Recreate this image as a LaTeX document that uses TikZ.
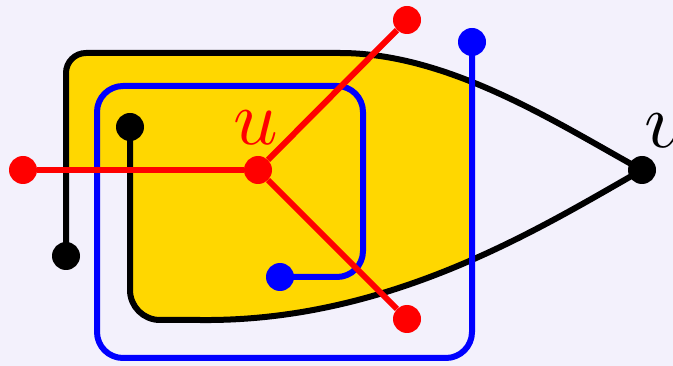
\documentclass[tikz,border=0pt]{standalone}
\usetikzlibrary{backgrounds}
\definecolor{bgpaper}{HTML}{F3F1FC}
\definecolor{facegold}{HTML}{FFD700}
\tikzset{
  vtx/.style={circle, inner sep=0pt, minimum size=28pt, fill=#1},
  strand/.style={line width=6pt, #1},
  biglabel/.style={inner sep=0pt},
}
\newcommand{\biglab}[1]{\scalebox{7.8}{$#1$}}

\begin{document}
\begin{tikzpicture}[x=1pt, y=-1pt]
  \useasboundingbox (0,0) rectangle (673,366);

  % vertices
  \node[vtx=red] (u) at (258,170) {};
  \node[vtx=red] (r1) at (23,170) {};
  \node[vtx=red] (r2) at (407,20) {};
  \node[vtx=red] (r3) at (407,319) {};
  \node[vtx=black] (v) at (642,170) {};
  \node[vtx=black] (b1) at (66,256) {};
  \node[vtx=black] (b2) at (130,127) {};
  \node[vtx=blue] (c1) at (280,277) {};
  \node[vtx=blue] (c2) at (472,42) {};
  \node[biglabel, red] (ulab) at (256,128) {\biglab{u}};
  \node[biglabel, anchor=west] (vlab) at (644,131) {\biglab{v}};

  % face
  \begin{scope}[on background layer]
    \fill[bgpaper] (0,0) rectangle (673,366);
    \clip (0,0) rectangle (472,366);
    \fill[facegold] (66,170) [rounded corners=20pt] |- (320,53) [sharp corners]
      .. controls (450,53) and (560,125) .. (v.center)
      .. controls (540,228) and (390,322) .. (200,320)
      [rounded corners=30pt] -| (130,250) [sharp corners] -- (130,170) -- cycle;
  \end{scope}

  % black strand through v
  \draw[strand=black, rounded corners=20pt] (b1.center) |- (320,53) [sharp corners]
    .. controls (450,53) and (560,125) .. (v.center)
    .. controls (540,228) and (390,322) .. (200,320)
    [rounded corners=30pt] -| (b2.center);

  % blue strand
  \draw[strand=blue, rounded corners=26pt] (c1.center) -| (363,86) -| (97,358) -| (c2.center);

  % red star at u
  \foreach \e in {r1,r2,r3}
    \draw[strand=red] (u) -- (\e);
\end{tikzpicture}
\end{document}
